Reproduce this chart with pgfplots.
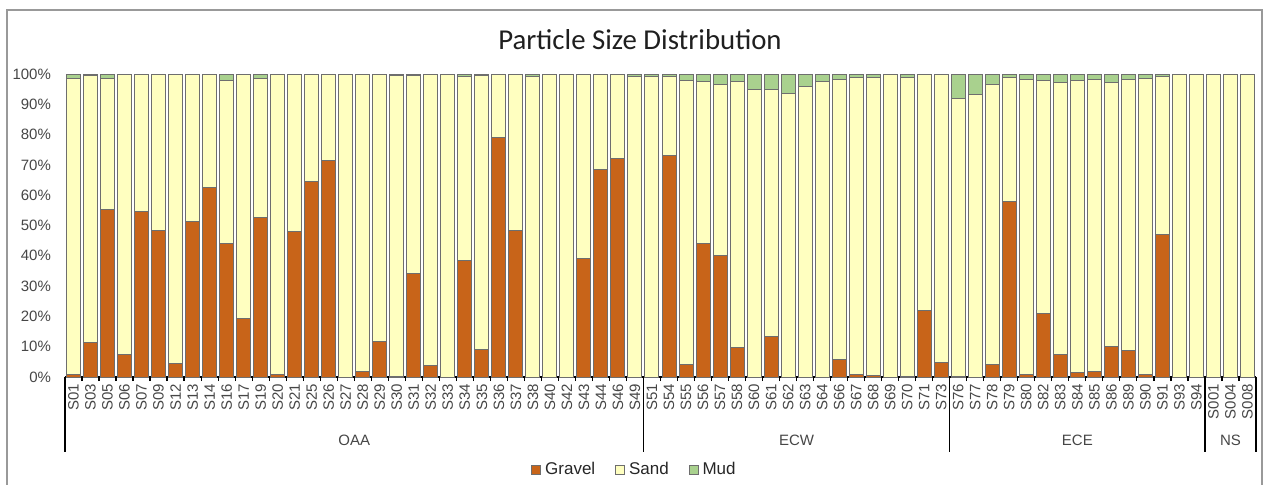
\documentclass[border=0pt]{standalone}
\usepackage{fontspec}
\setmainfont{Liberation Sans}
\newfontfamily\titlefont{Carlito}
\usepackage{pgfplots}
\pgfplotsset{compat=1.18}
\usepackage{pgfplotstable}

\definecolor{gravel}{RGB}{200,100,25}
\definecolor{sand}{RGB}{255,255,192}
\definecolor{mud}{RGB}{169,209,142}
\definecolor{edge}{RGB}{110,110,110}
\definecolor{lbl}{RGB}{70,70,70}

\pgfplotstableread{
x g s m
0 0.9 97.6 1.5
1 11.3 88.2 0.5
2 55.4 43.2 1.4
3 7.5 92.2 0.3
4 54.7 45.0 0.3
5 48.5 51.2 0.3
6 4.6 95.1 0.3
7 51.2 48.8 0.0
8 62.6 37.4 0.0
9 44.0 54.0 2.0
10 19.3 80.4 0.3
11 52.6 46.0 1.4
12 0.9 98.8 0.3
13 48.0 51.7 0.3
14 64.5 35.5 0.0
15 71.4 28.3 0.3
16 0 100 0
17 1.7 98.0 0.3
18 11.6 88.1 0.3
19 0.3 99.2 0.5
20 34.0 65.5 0.5
21 3.7 96.0 0.3
22 0 100 0
23 38.4 60.9 0.7
24 9.0 90.5 0.5
25 79.1 20.9 0
26 48.3 51.4 0.3
27 0 99.3 0.7
28 0 100 0
29 0 99.7 0.3
30 39.2 60.5 0.3
31 68.6 31.4 0
32 72.2 27.5 0.3
33 0 99.3 0.7
34 0 99.3 0.7
35 73.0 26.3 0.7
36 4.1 93.9 2.0
37 44.2 53.2 2.6
38 40.2 56.4 3.4
39 9.9 87.5 2.6
40 0 94.9 5.1
41 13.3 81.6 5.1
42 0 93.6 6.4
43 0 95.9 4.1
44 0 97.4 2.6
45 5.7 92.6 1.7
46 0.9 97.8 1.3
47 0.5 98.4 1.1
48 0 100 0
49 0.3 98.6 1.1
50 22.0 77.7 0.3
51 4.8 94.9 0.3
52 0.3 91.6 8.1
53 0 93.1 6.9
54 4.1 92.5 3.4
55 57.9 41.0 1.1
56 0.7 97.6 1.7
57 21.1 76.9 2.0
58 7.3 89.8 2.9
59 1.4 96.6 2.0
60 1.8 96.5 1.7
61 10.2 86.9 2.9
62 8.7 89.6 1.7
63 0.7 97.9 1.4
64 46.9 52.2 0.9
65 0 100 0
66 0 100 0
67 0 100 0
68 0 100 0
69 0 100 0
}\data

\begin{document}
\begin{tikzpicture}
\useasboundingbox (-32.5pt,-53.5pt) rectangle (600.5pt,188.5pt);
\draw[black!40, line width=0.75pt] (-29pt,-60pt) -- (-29pt,183.5pt) -- (598.5pt,183.5pt) -- (598.5pt,-60pt);
\node[font=\titlefont\fontsize{14.4}{17}\selectfont, text=black!88] at (287.5pt,168.5pt) {Particle Size Distribution};
\begin{axis}[
  at={(0pt,0pt)}, anchor=south west,
  scale only axis, width=595.5pt, height=151.5pt,
  xmin=-0.5, xmax=69.5, ymin=0, ymax=100,
  ybar stacked, bar width=7pt,
  clip=false,
  axis lines*=left,
  axis line style={-},
  y axis line style={draw=none},
  x axis line style={black, line width=0.75pt},
  ytick={0,10,...,100},
  yticklabel={\pgfmathprintnumber{\tick}\%},
  /pgf/number format/assume math mode=true,
  yticklabel style={font=\fontsize{7.5}{9}\selectfont, text=lbl, xshift=-3.5pt},
  xtick={0,...,69},
  xticklabels={S01,S03,S05,S06,S07,S09,S12,S13,S14,S16,S17,S19,S20,S21,S25,S26,S27,S28,S29,S30,S31,S32,S33,S34,S35,S36,S37,S38,S40,S42,S43,S44,S46,S49,S51,S54,S55,S56,S57,S58,S60,S61,S62,S63,S64,S66,S67,S68,S69,S70,S71,S73,S76,S77,S78,S79,S80,S82,S83,S84,S85,S86,S89,S90,S91,S93,S94,S001,S004,S008},
  xticklabel style={rotate=90, anchor=east, font=\fontsize{7.5}{9}\selectfont, text=lbl},
  major tick length=0pt,
  minor xtick={0.5,1.5,...,68.5},
  minor tick length=2pt,
  tick align=outside,
  minor tick style={black, line width=0.6pt},
  legend style={at={(axis description cs:0.479,-0.307)}, anchor=center, legend columns=3, draw=none, fill=none,
    font=\fontsize{8.5}{10}\selectfont, text=black!85,
    /tikz/every even column/.append style={column sep=8pt},
    inner sep=0pt, outer sep=0pt},
  legend image code/.code={\draw[#1, line width=0.5pt] (0pt,-2.2pt) rectangle (4.4pt,2.2pt);},
  every axis plot/.append style={draw=edge, line width=0.5pt},
]
\addplot[fill=gravel, draw=edge] table[x=x, y=g] {\data};
\addplot[fill=sand, draw=edge] table[x=x, y=s] {\data};
\addplot[fill=mud, draw=edge] table[x=x, y=m] {\data};
\legend{Gravel, Sand, Mud}

\draw[black, line width=0.75pt] (axis cs:-0.5,0) -- ++(0pt,-37.5pt);
\draw[black, line width=0.75pt] (axis cs:33.5,0) -- ++(0pt,-37.5pt);
\draw[black, line width=0.75pt] (axis cs:51.5,0) -- ++(0pt,-37.5pt);
\draw[black, line width=0.75pt] (axis cs:66.5,0) -- ++(0pt,-37.5pt);
\draw[black, line width=0.75pt] (axis cs:69.5,0) -- ++(0pt,-37.5pt);
\node[font=\fontsize{7.5}{9}\selectfont, text=lbl] at (axis cs:16.5,0) [yshift=-31.5pt] {OAA};
\node[font=\fontsize{7.5}{9}\selectfont, text=lbl] at (axis cs:42.5,0) [yshift=-31.5pt] {ECW};
\node[font=\fontsize{7.5}{9}\selectfont, text=lbl] at (axis cs:59,0) [yshift=-31.5pt] {ECE};
\node[font=\fontsize{7.5}{9}\selectfont, text=lbl] at (axis cs:68,0) [yshift=-31.5pt] {NS};
\end{axis}
\end{tikzpicture}
\end{document}
